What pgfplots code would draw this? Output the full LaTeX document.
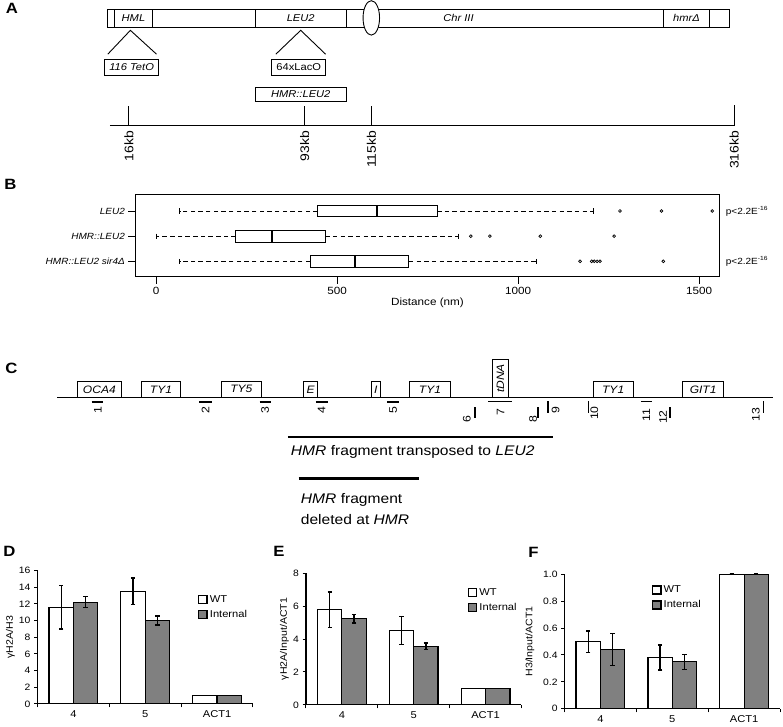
\documentclass[border=0pt]{standalone}
\usepackage{fontspec}
\setmainfont{Liberation Sans}[FakeStretch=1.12]
\usepackage{pgfplots}
\pgfplotsset{compat=1.18}
\usepgfplotslibrary{statistics}
\definecolor{barGray}{RGB}{128,128,128}
\newcommand{\fs}[1]{\fontsize{#1}{#1}\selectfont}
\pgfplotsset{
  sqleg/.style={legend image code/.code={\draw[##1,line width=1.5pt] (0pt,-4pt) rectangle (8.5pt,4pt);}},
  barpanel/.style={
    scale only axis, width=216.7pt, clip=false,
    axis lines*=left, axis line style={line width=1.2pt},
    xmin=-0.5, xmax=2.5, ymin=0,
    xtick={-0.5,0.5,1.5,2.5}, x tick label as interval, xticklabels={4,5,ACT1},
    tick align=outside, major tick length=3.5pt, tick style={line width=1pt, black},
    ybar=0pt, bar width=24.5pt,
    x tick label style={font=\fs{10}},
    y tick label style={font=\fs{9.3}},
    /pgf/number format/assume math mode=true,
    legend style={draw=none, fill=none, font=\fs{10}, row sep=2.5pt, anchor=north west},
    legend cell align=left,
    error bars/y dir=both, error bars/y explicit,
    error bars/error bar style={line width=1.4pt, black},
    error bars/error mark options={rotate=90, mark size=2.2pt, line width=1.4pt, black},
  },
  wtbar/.style={draw=black, line width=1.2pt, fill=white, sqleg},
  inbar/.style={draw=black, line width=1.2pt, fill=barGray, sqleg},
}
\begin{document}
\begin{tikzpicture}
% ---------------- overlay axis for diagrams (pixel coordinates) ----------------
\begin{axis}[at={(0pt,0pt)}, anchor=south west, scale only axis, width=783pt, height=728pt,
  xmin=0, xmax=783, ymin=0, ymax=728, y dir=reverse, hide axis, clip=false]
\path (0,0) rectangle (783,728);
% panel letters
\node[font=\fs{15}\bfseries] at (7.5,8) {A};
\node[font=\fs{15}\bfseries] at (6,185) {B};
\node[font=\fs{15}\bfseries] at (7,370) {C};
\node[font=\fs{15}\bfseries] at (5,554) {D};
\node[font=\fs{15}\bfseries] at (276,554) {E};
\node[font=\fs{15}\bfseries] at (532,555) {F};
% ---- A ----
\draw[line width=0.9pt] (104,9.3) rectangle (729,26.7);
\draw[line width=0.9pt] (110.7,9.3) rectangle (149,26.7);
\draw[line width=0.9pt] (252,9.3) rectangle (344,26.7);
\draw[line width=0.9pt] (662.7,9.3) rectangle (709.3,26.7);
\draw[line width=0.9pt, fill=white] (369,17.5) ellipse [x radius=8.3pt, y radius=17.3pt];
\node[font=\fs{10}\itshape] at (129.8,18) {HML};
\node[font=\fs{10}\itshape] at (298,18) {LEU2};
\node[font=\fs{10}\itshape] at (456.7,18) {Chr III};
\node[font=\fs{10}\itshape] at (686,18) {hmrΔ};
\draw[line width=0.9pt] (104,54) -- (126.7,30) -- (153,54);
\draw[line width=0.9pt] (273,54) -- (298,30) -- (323,54);
\draw[line width=0.9pt] (101,59) rectangle (155,75);
\node[font=\fs{10}\itshape] at (128,67) {116 TetO};
\draw[line width=0.9pt] (269,59) rectangle (323,75);
\node[font=\fs{10}] at (296,67) {64xLacO};
\draw[line width=0.9pt] (252,87) rectangle (344,102);
\node[font=\fs{10}\itshape] at (298,94.5) {HMR::LEU2};
\draw[line width=1pt] (106,125.7) -- (734,125.7);
\draw[line width=1pt] (125.3,125.7) -- (125.3,106);
\draw[line width=1pt] (302,125.7) -- (302,106);
\draw[line width=1pt] (369,125.7) -- (369,106);
\draw[line width=1pt] (734,126.2) -- (734,105);
\node[rotate=90, anchor=east, font=\fs{12.5}, inner sep=0pt] at (125.3,131) {16kb};
\node[rotate=90, anchor=east, font=\fs{12.5}, inner sep=0pt] at (302,131) {93kb};
\node[rotate=90, anchor=east, font=\fs{12.5}, inner sep=0pt] at (369,131) {115kb};
\node[rotate=90, anchor=east, font=\fs{12.5}, inner sep=0pt] at (734,131) {316kb};
% ---- B extras ----
\node[anchor=west, font=\fs{9}] at (722,212) {p<2.2E\textsuperscript{-16}};
\node[anchor=west, font=\fs{9}] at (722,262.3) {p<2.2E\textsuperscript{-16}};
% ---- C ----
\draw[line width=1pt] (53.3,399.3) -- (773.3,399.3);
\begin{scope}[line width=0.9pt]
\draw (73.7,399.3) rectangle (117.3,382.7);
\draw (137.7,399.3) rectangle (177.3,382.7);
\draw (218.3,399.3) rectangle (258.3,382.7);
\draw (301,399.3) rectangle (315,382.7);
\draw (369.3,399.3) rectangle (377.7,382.7);
\draw (407.7,399.3) rectangle (448.3,382.7);
\draw (491,399.3) rectangle (507,360.7);
\draw (592,399.3) rectangle (632.3,382.7);
\draw (682,399.3) rectangle (723.3,382.7);
\end{scope}
\node[font=\fs{10.8}\itshape] at (95.5,391) {OCA4};
\node[font=\fs{10.8}\itshape] at (157.5,391) {TY1};
\node[font=\fs{10.8}\itshape] at (238.3,391) {TY5};
\node[font=\fs{10.8}\itshape] at (308,391) {E};
\node[font=\fs{10.8}\itshape] at (373.5,391) {I};
\node[font=\fs{10.8}\itshape] at (428,391) {TY1};
\node[font=\fs{10.8}\itshape, rotate=90] at (499,380) {tDNA};
\node[font=\fs{10.8}\itshape] at (612.2,391) {TY1};
\node[font=\fs{10.8}\itshape] at (702.7,391) {GIT1};
% probes
\begin{scope}[line width=1.5pt]
\draw (87.7,404) -- (99.3,404);
\draw (196,404) -- (208.3,404);
\draw (256.7,404) -- (268.3,404);
\draw (313.3,404) -- (325,404);
\draw (385,404) -- (396.7,404);
\draw (473.3,409) -- (473.3,420);
\draw (486.7,403.5) -- (510,403.5);
\draw (536.7,409) -- (536.7,420);
\draw (546.7,403) -- (546.7,415);
\draw (587.3,403) -- (587.3,415);
\draw (640,403.5) -- (651.7,403.5);
\draw (669.3,409) -- (669.3,420);
\draw (763.3,403) -- (763.3,415);
\end{scope}
\begin{scope}[every node/.style={rotate=90, font=\fs{11}, inner sep=0pt}]
\node at (94,411.5) {1};
\node at (202.3,411.5) {2};
\node at (262.3,411.5) {3};
\node at (319,411.5) {4};
\node at (391,411.5) {5};
\node at (465,420.5) {6};
\node at (499,414) {7};
\node at (531.7,420.5) {8};
\node at (554.3,412) {9};
\node at (593.3,415) {10};
\node at (645.5,417) {11};
\node at (662.5,419) {12};
\node at (755.7,416.5) {13};
\end{scope}
\draw[line width=2.2pt] (285,439.3) -- (551.7,439.3);
\node[anchor=west, font=\fs{14}, inner sep=0pt] at (288,454) {\textit{HMR} fragment transposed to \textit{LEU2}};
\draw[line width=2.2pt] (296,480.7) -- (417.3,480.7);
\node[anchor=west, font=\fs{14}, inner sep=0pt] at (298,502) {\textit{HMR} fragment};
\node[anchor=west, font=\fs{14}, inner sep=0pt] at (298,522) {deleted at \textit{HMR}};
\end{axis}

% ---------------- B: boxplot ----------------
\begin{axis}[at={(131.7pt,450.3pt)}, anchor=south west, scale only axis,
  width=587.6pt, height=82.7pt,
  xmin=-57.7, xmax=1556.6, ymin=0.34, ymax=3.61, y dir=reverse,
  axis line style={line width=1.1pt},
  xtick={0,500,1000,1500}, ytick={1,2,3},
  yticklabels={LEU2, HMR::LEU2, HMR::LEU2 sir4Δ},
  xtick pos=bottom, ytick pos=left, tick align=outside, major tick length=7pt,
  tick style={black, line width=0.8pt},
  /pgf/number format/assume math mode=true,
  /pgf/number format/1000 sep={},
  x tick label style={font=\fs{10.5}},
  y tick label style={font=\fs{9}\itshape},
  xlabel={Distance (nm)},
  every axis x label/.style={at={(axis description cs:0.5,-0.32)}, anchor=center, font=\fs{10.5}},
  boxplot/draw direction=x,
  boxplot/box extend=0.47, boxplot/whisker extend=0.2,
  boxplot/every box/.style={draw=black, line width=1pt, fill=white},
  boxplot/every median/.style={line width=2.2pt, black},
  boxplot/draw/lower whisker/.code={%
    \draw[line width=0.9pt, dash pattern=on 4.5pt off 3.2pt] (boxplot cs:\pgfplotsboxplotvalue{lower quartile},0) -- (boxplot cs:\pgfplotsboxplotvalue{lower whisker},0);
    \draw[line width=0.9pt] (boxplot whisker cs:\pgfplotsboxplotvalue{lower whisker},0) -- (boxplot whisker cs:\pgfplotsboxplotvalue{lower whisker},1);
  },
  boxplot/draw/upper whisker/.code={%
    \draw[line width=0.9pt, dash pattern=on 4.5pt off 3.2pt] (boxplot cs:\pgfplotsboxplotvalue{upper quartile},0) -- (boxplot cs:\pgfplotsboxplotvalue{upper whisker},0);
    \draw[line width=0.9pt] (boxplot whisker cs:\pgfplotsboxplotvalue{upper whisker},0) -- (boxplot whisker cs:\pgfplotsboxplotvalue{upper whisker},1);
  },
]
\addplot[black, mark=o, mark size=1.4pt, mark options={solid, line width=0.7pt},
  boxplot prepared={draw position=1, lower whisker=65, lower quartile=446, median=611, upper quartile=776, upper whisker=1207}]
  table[row sep=\\, y index=0] {data\\ 1281\\ 1396\\ 1536\\};
\addplot[black, mark=o, mark size=1.4pt, mark options={solid, line width=0.7pt},
  boxplot prepared={draw position=2, lower whisker=0, lower quartile=220, median=320, upper quartile=467, upper whisker=835}]
  table[row sep=\\, y index=0] {data\\ 869\\ 922\\ 1061\\ 1265\\};
\addplot[black, mark=o, mark size=1.4pt, mark options={solid, line width=0.7pt},
  boxplot prepared={draw position=3, lower whisker=65, lower quartile=425, median=549, upper quartile=698, upper whisker=1051}]
  table[row sep=\\, y index=0] {data\\ 1171\\ 1203\\ 1210\\ 1218\\ 1226\\ 1401\\};
\end{axis}

% ---------------- D ----------------
\begin{axis}[barpanel, at={(33.3pt,20.7pt)}, anchor=south west, height=134.1pt,
  ymax=16, ytick={0,2,4,6,8,10,12,14,16},
  ylabel={γH2A/H3},
  every axis y label/.style={at={(axis description cs:-0.125,0.5)}, rotate=90, anchor=center, font=\fs{9.5}},
  legend style={at={(axis description cs:0.73,0.845)}}]
\addplot[wtbar] coordinates {(0,11.6) +- (0,2.6) (1,13.5) +- (0,1.6) (2,1.0) +- (0,0)};
\addplot[inbar] coordinates {(0,12.2) +- (0,0.65) (1,10.0) +- (0,0.55) (2,1.0) +- (0,0)};
\legend{WT, Internal}
\end{axis}

% ---------------- E ----------------
\begin{axis}[barpanel, at={(303.3pt,19.7pt)}, anchor=south west, height=132.4pt,
  ymax=8, ytick={0,2,4,6,8},
  ylabel={γH2A/Input/ACT1},
  every axis y label/.style={at={(axis description cs:-0.10,0.5)}, rotate=90, anchor=center, font=\fs{9.5}},
  legend style={at={(axis description cs:0.735,0.915)}}]
\addplot[wtbar] coordinates {(0,5.78) +- (0,1.08) (1,4.53) +- (0,0.85) (2,1.0) +- (0,0)};
\addplot[inbar] coordinates {(0,5.23) +- (0,0.26) (1,3.56) +- (0,0.2) (2,1.0) +- (0,0)};
\legend{WT, Internal}
\end{axis}

% ---------------- F ----------------
\begin{axis}[barpanel, at={(563.3pt,15.7pt)}, anchor=south west, height=135.4pt,
  ymax=1.0, ytick={0,0.2,0.4,0.6,0.8,1.0}, yticklabels={0,0.2,0.4,0.6,0.8,1.0},
  ylabel={H3/Input/ACT1},
  every axis y label/.style={at={(axis description cs:-0.16,0.5)}, rotate=90, anchor=center, font=\fs{9.5}},
  legend style={at={(axis description cs:0.39,0.945)}}]
\addplot[wtbar] coordinates {(0,0.497) +- (0,0.08) (1,0.381) +- (0,0.093) (2,1.0) +- (0,0)};
\addplot[inbar] coordinates {(0,0.44) +- (0,0.118) (1,0.349) +- (0,0.056) (2,1.0) +- (0,0)};
\legend{WT, Internal}
\end{axis}
\end{tikzpicture}
\end{document}
